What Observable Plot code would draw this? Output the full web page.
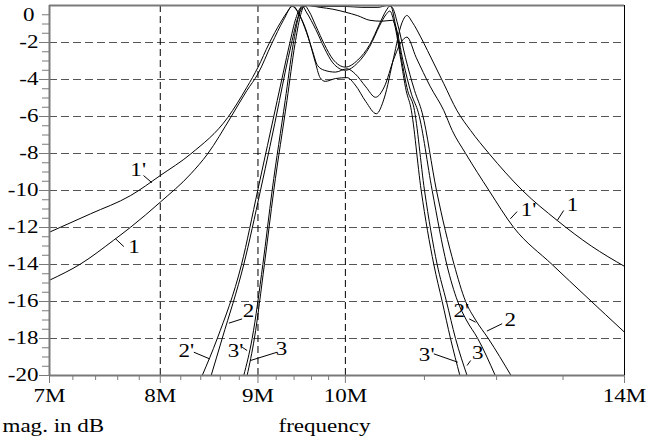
<!DOCTYPE html>
<html><head><meta charset="utf-8">
<script src="https://cdn.jsdelivr.net/npm/d3@7"></script>
<script src="https://cdn.jsdelivr.net/npm/@observablehq/plot@0.6"></script>
<style>body{margin:0;background:#fff}</style>
</head><body><div id="chart"></div>
<script>
// frequency in MHz, magnitude in dB
const f_1  = [7.0, 7.27, 7.56, 7.72, 8.0, 8.3, 8.47, 8.71, 8.88, 9.0, 9.15, 9.28, 9.38, 9.46, 9.55, 9.64, 9.70, 9.76, 9.88, 10.02, 10.12, 10.25, 10.38, 10.48, 10.6, 10.7, 10.77, 10.84, 10.95, 11.04, 11.26, 11.44, 11.63, 11.89, 12.38, 12.91, 13.45, 14.0];
const db_1 = [-14.85, -13.96, -12.7, -11.98, -10.63, -9.1, -8.02, -6.04, -4.6, -3.69, -2.07, -0.8, -0.05, -0.5, -1.5, -3.0, -3.9, -4.1, -3.95, -3.9, -4.3, -5.2, -5.85, -5.0, -2.8, -1.0, -0.54, -0.9, -1.7, -2.43, -4.23, -5.68, -6.76, -8.0, -10.0, -11.62, -13.0, -14.1];

const f_1p  = [7.0, 7.355, 7.72, 8.0, 8.3, 8.68, 8.88, 9.0, 9.12, 9.25, 9.33, 9.38, 9.45, 9.52, 9.61, 9.67, 9.75, 9.88, 10.02, 10.12, 10.25, 10.37, 10.48, 10.6, 10.7, 10.77, 10.89, 11.08, 11.26, 11.375, 11.56, 11.89, 12.25, 12.83, 13.38, 14.0];
const db_1p = [-12.25, -11.26, -10.27, -9.19, -8.02, -6.04, -4.42, -3.34, -2.07, -0.9, -0.3, 0, -0.4, -1.17, -2.43, -3.24, -3.5, -3.6, -3.42, -3.7, -4.4, -4.96, -4.4, -2.9, -1.95, -1.71, -2.8, -4.4, -5.68, -6.76, -8.0, -10.0, -12.0, -14.0, -15.77, -17.66];

const f_2  = [8.506, 8.62, 8.847, 9.027, 9.236, 9.30, 9.37, 9.44, 9.50, 9.56, 9.7, 9.85, 10.0, 10.2, 10.4, 10.52, 10.58, 10.65, 10.75, 10.87, 10.97, 11.161, 11.40, 11.56, 11.70, 11.88, 12.21];
const db_2 = [-20, -18, -14, -10, -5.14, -3.6, -2.07, -0.7, -0.1, 0, -0.05, -0.05, -0.05, -0.1, -0.1, 0, -0.1, -1.0, -2.8, -4.6, -5.8, -10, -14, -16, -17, -18, -20];

const f_2p  = [8.415, 8.569, 8.823, 8.997, 9.211, 9.28, 9.35, 9.42, 9.48, 9.55, 9.7, 9.85, 10.0, 10.15, 10.3, 10.45, 10.58, 10.63, 10.72, 10.83, 10.92, 11.103, 11.30, 11.45, 11.57, 11.73, 11.98];
const db_2p = [-20, -18, -14, -10, -5.14, -3.6, -2.07, -0.7, -0.1, 0, -0.1, -0.2, -0.36, -0.55, -0.8, -0.85, -0.8, -1.2, -3.0, -4.8, -5.8, -10, -14, -16, -17, -18, -20];

const f_3  = [8.883, 8.961, 9.07, 9.173, 9.32, 9.41, 9.47, 9.52, 9.57, 9.65, 9.75, 9.85, 10.0, 10.15, 10.3, 10.42, 10.5, 10.56, 10.62, 10.7, 10.78, 10.86, 11.001, 11.17, 11.296, 11.42, 11.58];
const db_3 = [-20, -18, -14, -10, -5.14, -2.1, -0.6, 0, -0.3, -1.1, -2.1, -2.9, -3.33, -2.95, -2.1, -1.0, -0.3, 0, -1.0, -2.9, -4.6, -5.5, -10, -14, -16, -18, -20];

const f_3p  = [8.847, 8.937, 9.053, 9.155, 9.30, 9.39, 9.45, 9.49, 9.54, 9.65, 9.75, 9.85, 10.0, 10.15, 10.3, 10.42, 10.5, 10.55, 10.61, 10.69, 10.76, 10.82, 10.957, 11.125, 11.238, 11.351, 11.48];
const db_3p = [-20, -18, -14, -10, -5.14, -2.1, -0.6, 0, -0.35, -1.3, -2.3, -3.1, -3.5, -3.1, -2.2, -1.1, -0.5, -0.3, -1.0, -2.9, -4.6, -5.5, -10, -14, -16, -18, -20];

const curveNames = ["1", "1'", "2", "2'", "3", "3'"];
const curveF  = [f_1, f_1p, f_2, f_2p, f_3, f_3p];
const curveDb = [db_1, db_1p, db_2, db_2p, db_3, db_3p];

// curve labels and their leader lines
const labelText = ["1'", "1", "1'", "1", "2", "2'", "3'", "3", "2'", "2", "3'", "3"];
const labelF    = [7.79, 7.75, 12.47, 13.15, 8.898, 8.256, 8.76, 9.258, 11.50, 12.20, 11.03, 11.73];
const labelDb   = [-8.92, -13.08, -11.08, -10.81, -16.54, -18.70, -18.70, -18.59, -16.54, -17.03, -18.92, -18.81];
const leadF1  = [7.84, 7.656, 12.30, 13.01, 8.83, 8.33, 8.83, 9.211, 11.61, 12.08, 11.125, 11.63];
const leadDb1 = [-9.19, -13.03, -11.14, -11.08, -16.94, -18.74, -18.47, -18.74, -16.94, -17.2, -18.83, -19.19];
const leadF2  = [7.92, 7.58, 12.20, 12.91, 8.69, 8.49, 8.883, 8.919, 11.70, 11.86, 11.45, 11.58];
const leadDb2 = [-9.58, -12.61, -11.53, -11.62, -17.17, -19.10, -18.65, -19.19, -17.12, -17.6, -19.28, -19.46];

// axes
const xMajorTicks = [7, 8, 9, 10, 14];
const xTickLabels = ["7M", "8M", "9M", "10M", "14M"];
const xMinorTicks = [7.2, 7.4, 7.6, 7.8, 8.2, 8.4, 8.6, 8.8, 9.2, 9.4, 9.6, 9.8, 11, 12, 13];
const xGridTicks = [8, 9, 10];
const yMajorTicks = [-2, -4, -6, -8, -10, -12, -14, -16, -18, -20];
const yGridTicks = [-2, -4, -6, -8, -10, -12, -14, -16, -18];
const yMinorTicks = d3.range(-19.5, 0, 0.5);
const xTitle = "frequency";
const yTitle = "mag. in dB";

const rows = [];
curveNames.forEach((name, k) => curveF[k].forEach((f, i) => rows.push({curve: name, f, db: curveDb[k][i]})));
const labels = labelText.map((t, i) => ({t, f: labelF[i], db: labelDb[i]}));
const leaders = leadF1.map((f, i) => ({f1: f, d1: leadDb1[i], f2: leadF2[i], d2: leadDb2[i]}));
const xLabels = xMajorTicks.map((v, i) => ({v, t: xTickLabels[i]}));

const axisGray = "#7a7a7a";
const chart = Plot.plot({
  width: 650, height: 442,
  marginLeft: 49, marginRight: 26, marginTop: 5, marginBottom: 67,
  x: {type: "log", domain: [7, 14], label: null},
  y: {domain: [-20, 0], label: null},
  style: {fontFamily: "'Liberation Serif', 'Times New Roman', serif", fontSize: "18px", color: "black", background: "white"},
  marks: [
    Plot.gridY(yGridTicks, {stroke: "#555", strokeOpacity: 1, strokeDasharray: "8,4"}),
    Plot.gridX(xGridTicks, {stroke: "#000", strokeOpacity: 1, strokeDasharray: "7,4"}),
    Plot.line(rows, {x: "f", y: "db", z: "curve", stroke: "black", strokeWidth: 1, curve: "monotone-x", clip: true}),
    Plot.link(leaders, {x1: "f1", y1: "d1", x2: "f2", y2: "d2", stroke: "black", strokeWidth: 1}),
    Plot.text(labels, {x: "f", y: "db", text: "t", fill: "black"}),
    Plot.axisY(yMinorTicks, {tickSize: 7, tickFormat: () => "", stroke: axisGray, label: null}),
    Plot.axisY(yMajorTicks, {tickSize: 10, tickPadding: 1, tickFormat: d => String(d), stroke: axisGray, fill: "black", label: null}),
    Plot.axisY([0], {tickSize: 0, tickPadding: 15, dy: 9.5, tickFormat: d => String(d), fill: "black", label: null}),
    Plot.axisX(xMinorTicks, {tickSize: 5, tickFormat: () => "", stroke: axisGray, label: null}),
    Plot.axisX(xMajorTicks, {tickSize: 8, tickFormat: () => "", stroke: axisGray, label: null}),
    Plot.text(xLabels, {x: "v", text: "t", frameAnchor: "bottom", dy: 26, fill: "black"}),
    Plot.ruleY([-20], {stroke: axisGray, strokeWidth: 2}),
    Plot.ruleY([0], {stroke: axisGray, strokeWidth: 2}),
    Plot.ruleX([7], {stroke: axisGray, strokeWidth: 2}),
    Plot.ruleX([14], {stroke: "black", strokeWidth: 1}),
    Plot.text([yTitle], {frameAnchor: "bottom-left", textAnchor: "start", dx: -47, dy: 56, fill: "black"}),
    Plot.text([xTitle], {frameAnchor: "bottom", dx: -12.5, dy: 56, fill: "black"})
  ]
});

// the reference's lettering is horizontally wide: stretch each text about its own anchor
chart.querySelectorAll("text").forEach(t => {
  const tr = t.getAttribute("transform") || "";
  t.setAttribute("transform", `${tr} scale(1.28,1)`);
});
document.getElementById("chart").appendChild(chart);
</script>
</body></html>
